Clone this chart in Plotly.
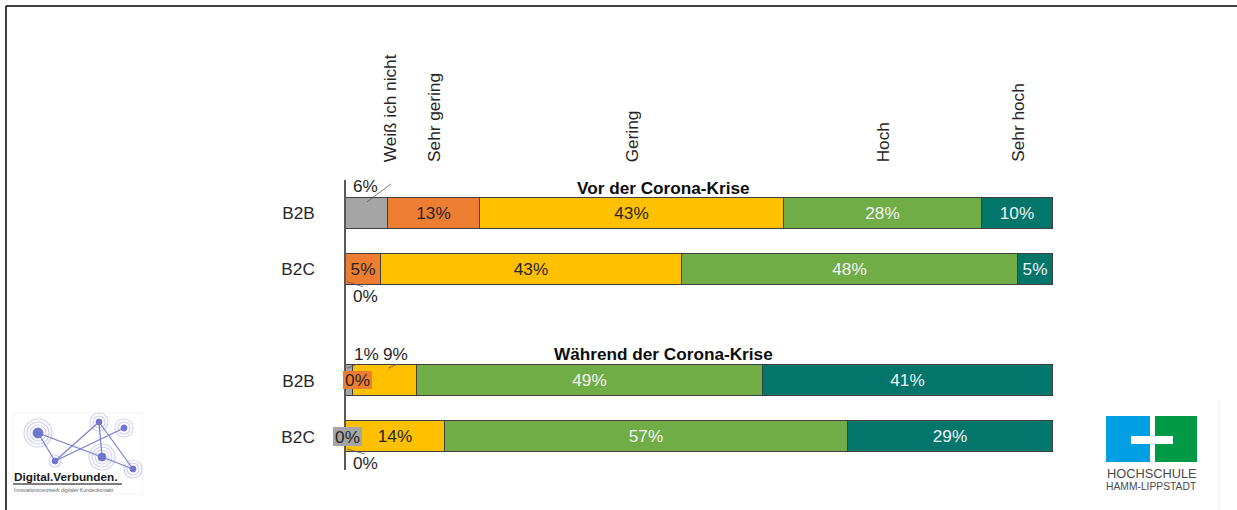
import plotly.graph_objects as go

W, H = 1237, 510
FONT = "Liberation Sans, Arial, sans-serif"

# ---------------- data ----------------
categories = ["Weiß ich nicht", "Sehr gering", "Gering", "Hoch", "Sehr hoch"]
row_labels = ["B2B", "B2C", "B2B", "B2C"]
group_titles = ["Vor der Corona-Krise", "Während der Corona-Krise"]

weiss_ich_nicht = [6, 0, 1, 0]
sehr_gering = [13, 5, 0, 0]
gering = [43, 43, 9, 14]
hoch = [28, 48, 49, 57]
sehr_hoch = [10, 5, 41, 29]

# ---------------- style ----------------
colors = ["#A5A5A5", "#ED7D31", "#FFC000", "#70AD47", "#02766B"]
text_colors = ["#262626", "#262626", "#262626", "#F2F2F2", "#F2F2F2"]
FS = 17.2

series = [weiss_ich_nicht, sehr_gering, gering, hoch, sehr_hoch]
n_rows = len(row_labels)
row_y = [(i // 2) * 3 + i % 2 for i in range(n_rows)]  # two groups with a gap
row_sum = [sum(s[i] for s in series) for i in range(n_rows)]
# 100 % stacked: each row is normalised to its total
shares = [[s[i] / row_sum[i] * 100 for i in range(n_rows)] for s in series]
starts = []
acc = [0.0] * n_rows
for sh in shares:
    starts.append(acc[:])
    acc = [a + v for a, v in zip(acc, sh)]

# labels that Excel placed outside the bars (category index, row index):
# text offset (px, down positive), optional leader line, optional background box size
callouts = {
    (0, 0): dict(t=(19, -27.5), leader=(21, -11.5, 45, -29.5)),
    (0, 1): dict(t=(19, 26.5), leader=(1, 12.5, 17, 17.5)),
    (0, 2): dict(t=(20, -26.5), leader=(1, -12.5, 11, -16.5)),
    (2, 2): dict(t=(42, -26.5), leader=(35, -12.5, 44, -16.5)),
    (1, 2): dict(t=(4.5, -0.5), box=(29, 18)),
    (0, 3): dict(t=(1.5, 0), box=(29, 19)),
    (1, 3): dict(t=(19, 26.5), leader=(1, 12.5, 19, 17.5)),
}

fig = go.Figure()
for c, name in enumerate(categories):
    texts = []
    for r in range(n_rows):
        texts.append("" if (c, r) in callouts else f"{series[c][r]}%")
    fig.add_trace(go.Bar(
        name=name, orientation="h",
        x=shares[c], y=row_y,
        width=0.556,
        marker=dict(color=colors[c], line=dict(color="#404040", width=1)),
        text=texts, textposition="inside", insidetextanchor="middle",
        textangle=0,
        textfont=dict(family=FONT, size=FS, color=text_colors[c]),
        hoverinfo="skip",
    ))

shapes = []
annotations = []

# outside labels with leader lines / boxes
for (c, r), co in callouts.items():
    x_anchor = starts[c][r]
    y_anchor = row_y[r]
    if "leader" in co:
        lx0, ly0, lx1, ly1 = co["leader"]
        shapes.append(dict(type="line", xref="x", yref="y",
                           xsizemode="pixel", ysizemode="pixel",
                           xanchor=x_anchor, yanchor=y_anchor,
                           x0=lx0, x1=lx1, y0=-ly0, y1=-ly1,
                           line=dict(color="#595959", width=0.8), layer="above"))
    tx, ty = co["t"]
    ann = dict(x=x_anchor, y=y_anchor, xref="x", yref="y",
               text=f"{series[c][r]}%", showarrow=False,
               xanchor="center", yanchor="middle",
               xshift=tx, yshift=-ty,
               font=dict(family=FONT, size=FS, color="#262626"))
    if "box" in co:
        bw, bh = co["box"]
        ann.update(bgcolor=colors[c], width=bw, height=bh, borderpad=0, borderwidth=0)
    annotations.append(ann)

# category headers (rotated), above the middle of each segment of the first bar
for c, name in enumerate(categories):
    mid = starts[c][0] + shares[c][0] / 2
    annotations.append(dict(x=mid, xref="x", y=1 - 164 / H, yref="paper",
                            text=name, textangle=-90, showarrow=False,
                            xanchor="center", yanchor="bottom",
                            xshift=23 if c == 0 else 0,
                            font=dict(family=FONT, size=FS, color="#262626")))

# group titles
for title, (px, py) in zip(group_titles, [(663.5, 187.5), (663.5, 354)]):
    annotations.append(dict(x=px / W, y=1 - py / H, xref="paper", yref="paper",
                            text=f"<b>{title}</b>", showarrow=False,
                            xanchor="center", yanchor="middle",
                            font=dict(family=FONT, size=FS, color="#0D0D0D")))


def P(x, y):
    return x / W, 1 - y / H


# slide frame (top and left edge)
x0, y0 = P(6, 6)
x1, y1 = P(W, 6)
shapes.append(dict(type="line", xref="paper", yref="paper", x0=x0, y0=y0, x1=x1, y1=y1,
                   line=dict(color="#000000", width=1.5)))
x1, y1 = P(6, H)
shapes.append(dict(type="line", xref="paper", yref="paper", x0=x0, y0=y0, x1=x1, y1=y1,
                   line=dict(color="#000000", width=1.5)))

# faint guide line near right logo
a, b = P(1219, 400)
c_, d = P(1219, H)
shapes.append(dict(type="line", xref="paper", yref="paper", x0=a, y0=b, x1=c_, y1=d,
                   line=dict(color="#EFEFEF", width=1)))

# ---- Digital.Verbunden. logo ----
a, b = P(13, 413)
c_, d = P(142, 494)
shapes.append(dict(type="rect", xref="paper", yref="paper", x0=a, y0=b, x1=c_, y1=d,
                   line=dict(color="#F3F3F3", width=1), fillcolor="rgba(0,0,0,0)"))
nodes = {"A": (38, 433, 5, [8, 11, 14]), "B": (55, 461, 3, [6]),
         "C": (99, 422, 3, [6, 9]), "D": (124, 428, 3, [6, 9]),
         "E": (102, 457, 4, [7, 10, 13]), "F": (133, 469, 3, [6, 9])}
edges = [("A", "B"), ("A", "E"), ("B", "C"), ("B", "D"), ("C", "E"), ("C", "F"), ("E", "F")]
for n1, n2 in edges:
    xa, ya = P(*nodes[n1][:2])
    xb, yb = P(*nodes[n2][:2])
    shapes.append(dict(type="line", xref="paper", yref="paper", x0=xa, y0=ya, x1=xb, y1=yb,
                       line=dict(color="#7A7ED2", width=1.2)))
for cx, cy, rc, rings in nodes.values():
    for rr in rings:
        xa, ya = P(cx - rr, cy - rr)
        xb, yb = P(cx + rr, cy + rr)
        shapes.append(dict(type="circle", xref="paper", yref="paper",
                           x0=xa, y0=ya, x1=xb, y1=yb,
                           line=dict(color="rgba(122,126,210,0.35)", width=1.2)))
    xa, ya = P(cx - rc, cy - rc)
    xb, yb = P(cx + rc, cy + rc)
    shapes.append(dict(type="circle", xref="paper", yref="paper",
                       x0=xa, y0=ya, x1=xb, y1=yb,
                       fillcolor="#7276CC", line=dict(color="#7276CC", width=1)))
a, b = P(13, 484)
c_, d = P(122, 484)
shapes.append(dict(type="line", xref="paper", yref="paper", x0=a, y0=b, x1=c_, y1=d,
                   line=dict(color="#555555", width=1.5)))
a, b = P(12, 477)
annotations.append(dict(x=a, y=b, xref="paper", yref="paper", text="<b>Digital.Verbunden.</b>",
                        showarrow=False, xanchor="left", yanchor="middle",
                        font=dict(family=FONT, size=11.8, color="#1A1A1A")))
a, b = P(12, 490)
annotations.append(dict(x=a, y=b, xref="paper", yref="paper",
                        text="Innovationsnetzwerk digitaler Kundenkontakt",
                        showarrow=False, xanchor="left", yanchor="middle",
                        font=dict(family=FONT, size=5, color="#666666")))

# ---- HSHL logo ----
for (rx0, ry0, rx1, ry1, col) in [(1106, 416, 1150, 462, "#009FE3"),
                                  (1155, 416, 1197, 462, "#009A46"),
                                  (1131, 436, 1173, 444, "#FFFFFF")]:
    a, b = P(rx0, ry0)
    c_, d = P(rx1, ry1)
    shapes.append(dict(type="rect", xref="paper", yref="paper", x0=a, y0=b, x1=c_, y1=d,
                       fillcolor=col, line=dict(width=0)))
a, b = P(1151.5, 473)
annotations.append(dict(x=a, y=b, xref="paper", yref="paper", text="HOCHSCHULE",
                        showarrow=False, xanchor="center", yanchor="middle",
                        font=dict(family=FONT, size=12.8, color="#4A4A4A")))
a, b = P(1151.5, 486)
annotations.append(dict(x=a, y=b, xref="paper", yref="paper", text="HAMM-LIPPSTADT",
                        showarrow=False, xanchor="center", yanchor="middle",
                        font=dict(family=FONT, size=10.3, color="#4A4A4A")))

fig.update_layout(
    width=W, height=H, autosize=False,
    margin=dict(l=0, r=0, t=0, b=0, pad=0),
    paper_bgcolor="white", plot_bgcolor="white",
    barmode="stack", bargap=0, showlegend=False,
    xaxis=dict(domain=[346 / W, 1053 / W], range=[0, 100], visible=False, fixedrange=True),
    yaxis=dict(domain=[1 - 470 / H, 1 - 180 / H], range=[4.6, -0.6],
               tickvals=row_y, ticktext=row_labels, ticks="", ticklabelstandoff=26,
               showline=True, linecolor="#595959", linewidth=1.5,
               showgrid=False, zeroline=False, fixedrange=True,
               tickfont=dict(family=FONT, size=FS, color="#262626")),
    shapes=shapes, annotations=annotations,
)

fig.write_html(
    "out.html",
    config={"displayModeBar": False},
    post_script="document.body.style.margin='0px';document.body.style.overflow='hidden';",
)
